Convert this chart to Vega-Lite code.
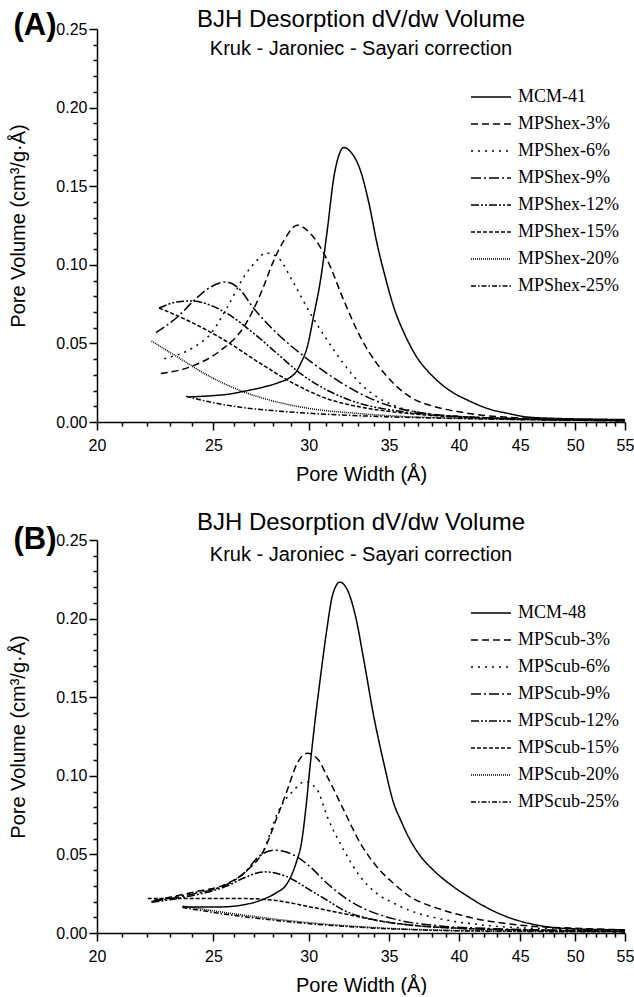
{
"$schema":"https://vega.github.io/schema/vega-lite/v6.json",
"padding":{"left":8,"top":8,"right":0,"bottom":0},
"config":{
 "view":{"stroke":null},
 "font":"Liberation Sans",
 "axis":{"grid":false,"domainColor":"black","domainWidth":1.5,"tickColor":"black","tickWidth":1.5,"labelColor":"black","titleColor":"black","labelFont":"Liberation Sans","titleFont":"Liberation Sans","labelFontSize":16,"titleFontSize":20,"titleFontWeight":"normal","labelOverlap":false,"labelFlush":false,"labelBound":false},
 "title":{"font":"Liberation Sans","fontSize":24,"fontWeight":"normal","color":"black","subtitleFont":"Liberation Sans","subtitleFontSize":20,"subtitleColor":"black","anchor":"middle","frame":"group"},
 "legend":{"title":null,"orient":"none","symbolType":"M-4,0H4","symbolSize":100,"symbolStrokeWidth":1.5,"symbolStrokeColor":"black","symbolFillColor":"transparent","labelFont":"Liberation Serif","labelFontSize":18,"labelColor":"black","labelOffset":18,"rowPadding":9,"padding":0},
 "concat":{"spacing":27}
},
"resolve":{"scale":{"strokeDash":"independent"},"legend":{"strokeDash":"independent"}},
"datasets":{
"hex":[
{"s":"MCM-41","w":23.83,"v":0.0159},{"s":"MCM-41","w":25.0,"v":0.0168},{"s":"MCM-41","w":25.68,"v":0.0176},{"s":"MCM-41","w":26.6,"v":0.0198},{"s":"MCM-41","w":27.54,"v":0.0223},{"s":"MCM-41","w":28.3,"v":0.025},{"s":"MCM-41","w":28.98,"v":0.0286},{"s":"MCM-41","w":29.3,"v":0.032},{"s":"MCM-41","w":29.54,"v":0.0371},{"s":"MCM-41","w":29.92,"v":0.0477},{"s":"MCM-41","w":30.3,"v":0.068},{"s":"MCM-41","w":30.69,"v":0.0902},{"s":"MCM-41","w":31.09,"v":0.122},{"s":"MCM-41","w":31.49,"v":0.156},{"s":"MCM-41","w":31.8,"v":0.170},{"s":"MCM-41","w":32.09,"v":0.1746},{"s":"MCM-41","w":32.5,"v":0.172},{"s":"MCM-41","w":33.13,"v":0.160},{"s":"MCM-41","w":33.7,"v":0.138},{"s":"MCM-41","w":34.2,"v":0.1135},{"s":"MCM-41","w":34.75,"v":0.092},{"s":"MCM-41","w":35.31,"v":0.0732},{"s":"MCM-41","w":36.0,"v":0.057},{"s":"MCM-41","w":36.45,"v":0.0485},{"s":"MCM-41","w":37.0,"v":0.040},{"s":"MCM-41","w":37.64,"v":0.0329},{"s":"MCM-41","w":38.2,"v":0.0278},{"s":"MCM-41","w":38.61,"v":0.0246},{"s":"MCM-41","w":39.5,"v":0.019},{"s":"MCM-41","w":40.66,"v":0.014},{"s":"MCM-41","w":42.5,"v":0.008},{"s":"MCM-41","w":43.8,"v":0.0057},{"s":"MCM-41","w":45.6,"v":0.0032},{"s":"MCM-41","w":48,"v":0.0023},{"s":"MCM-41","w":52,"v":0.0018},{"s":"MCM-41","w":55,"v":0.0015},
{"s":"MPShex-3%","w":22.6,"v":0.0308},{"s":"MPShex-3%","w":24.09,"v":0.036},{"s":"MPShex-3%","w":25.35,"v":0.0456},{"s":"MPShex-3%","w":26.5,"v":0.0605},{"s":"MPShex-3%","w":27.37,"v":0.0817},{"s":"MPShex-3%","w":28.07,"v":0.103},{"s":"MPShex-3%","w":28.62,"v":0.1156},{"s":"MPShex-3%","w":29.35,"v":0.1252},{"s":"MPShex-3%","w":30.1,"v":0.1199},{"s":"MPShex-3%","w":31.09,"v":0.103},{"s":"MPShex-3%","w":32.09,"v":0.0774},{"s":"MPShex-3%","w":33.13,"v":0.054},{"s":"MPShex-3%","w":34.2,"v":0.037},{"s":"MPShex-3%","w":35.31,"v":0.0244},{"s":"MPShex-3%","w":36.45,"v":0.0159},{"s":"MPShex-3%","w":38.3,"v":0.0095},{"s":"MPShex-3%","w":40,"v":0.0065},{"s":"MPShex-3%","w":42,"v":0.0042},{"s":"MPShex-3%","w":45,"v":0.0026},{"s":"MPShex-3%","w":50,"v":0.0016},{"s":"MPShex-3%","w":55,"v":0.001},
{"s":"MPShex-6%","w":22.75,"v":0.0403},{"s":"MPShex-6%","w":24.09,"v":0.0477},{"s":"MPShex-6%","w":24.87,"v":0.0562},{"s":"MPShex-6%","w":25.68,"v":0.0732},{"s":"MPShex-6%","w":26.5,"v":0.0923},{"s":"MPShex-6%","w":27.19,"v":0.103},{"s":"MPShex-6%","w":27.63,"v":0.1076},{"s":"MPShex-6%","w":28.25,"v":0.105},{"s":"MPShex-6%","w":29.17,"v":0.088},{"s":"MPShex-6%","w":30.1,"v":0.069},{"s":"MPShex-6%","w":31.09,"v":0.052},{"s":"MPShex-6%","w":32.09,"v":0.037},{"s":"MPShex-6%","w":33.13,"v":0.0244},{"s":"MPShex-6%","w":34.2,"v":0.0159},{"s":"MPShex-6%","w":35.31,"v":0.0106},{"s":"MPShex-6%","w":37.64,"v":0.0053},{"s":"MPShex-6%","w":40,"v":0.0035},{"s":"MPShex-6%","w":45,"v":0.002},{"s":"MPShex-6%","w":50,"v":0.0012},{"s":"MPShex-6%","w":55,"v":0.0008},
{"s":"MPShex-9%","w":22.39,"v":0.0569},{"s":"MPShex-9%","w":23.33,"v":0.0668},{"s":"MPShex-9%","w":24.09,"v":0.0774},{"s":"MPShex-9%","w":24.87,"v":0.0859},{"s":"MPShex-9%","w":25.6,"v":0.0891},{"s":"MPShex-9%","w":26.17,"v":0.0859},{"s":"MPShex-9%","w":27.02,"v":0.0721},{"s":"MPShex-9%","w":28.25,"v":0.0562},{"s":"MPShex-9%","w":29.54,"v":0.0435},{"s":"MPShex-9%","w":31.09,"v":0.0308},{"s":"MPShex-9%","w":33.13,"v":0.018},{"s":"MPShex-9%","w":35.31,"v":0.0095},{"s":"MPShex-9%","w":37.64,"v":0.0053},{"s":"MPShex-9%","w":40,"v":0.0035},{"s":"MPShex-9%","w":45,"v":0.002},{"s":"MPShex-9%","w":50,"v":0.0012},{"s":"MPShex-9%","w":55,"v":0.0008},
{"s":"MPShex-12%","w":22.53,"v":0.0725},{"s":"MPShex-12%","w":23.33,"v":0.0764},{"s":"MPShex-12%","w":23.94,"v":0.077},{"s":"MPShex-12%","w":24.87,"v":0.0742},{"s":"MPShex-12%","w":25.68,"v":0.0689},{"s":"MPShex-12%","w":27.02,"v":0.0562},{"s":"MPShex-12%","w":28.25,"v":0.0435},{"s":"MPShex-12%","w":29.54,"v":0.0308},{"s":"MPShex-12%","w":31.09,"v":0.0202},{"s":"MPShex-12%","w":33.13,"v":0.0117},{"s":"MPShex-12%","w":35.31,"v":0.0074},{"s":"MPShex-12%","w":38,"v":0.0045},{"s":"MPShex-12%","w":42,"v":0.0028},{"s":"MPShex-12%","w":48,"v":0.0016},{"s":"MPShex-12%","w":55,"v":0.001},
{"s":"MPShex-15%","w":22.53,"v":0.0725},{"s":"MPShex-15%","w":24.09,"v":0.0626},{"s":"MPShex-15%","w":25.68,"v":0.0509},{"s":"MPShex-15%","w":27.37,"v":0.0371},{"s":"MPShex-15%","w":29.17,"v":0.0244},{"s":"MPShex-15%","w":31.09,"v":0.0148},{"s":"MPShex-15%","w":33.13,"v":0.0095},{"s":"MPShex-15%","w":35.31,"v":0.0064},{"s":"MPShex-15%","w":38,"v":0.0042},{"s":"MPShex-15%","w":42,"v":0.0026},{"s":"MPShex-15%","w":48,"v":0.0015},{"s":"MPShex-15%","w":55,"v":0.001},
{"s":"MPShex-20%","w":22.2,"v":0.0515},{"s":"MPShex-20%","w":23.33,"v":0.0414},{"s":"MPShex-20%","w":24.87,"v":0.0286},{"s":"MPShex-20%","w":26.5,"v":0.0191},{"s":"MPShex-20%","w":28.25,"v":0.0127},{"s":"MPShex-20%","w":30.1,"v":0.0085},{"s":"MPShex-20%","w":33.13,"v":0.0053},{"s":"MPShex-20%","w":36,"v":0.0035},{"s":"MPShex-20%","w":40,"v":0.0024},{"s":"MPShex-20%","w":45,"v":0.0016},{"s":"MPShex-20%","w":55,"v":0.0009},
{"s":"MPShex-25%","w":23.71,"v":0.0163},{"s":"MPShex-25%","w":25.68,"v":0.0106},{"s":"MPShex-25%","w":28.25,"v":0.007},{"s":"MPShex-25%","w":31.09,"v":0.0049},{"s":"MPShex-25%","w":35.31,"v":0.0032},{"s":"MPShex-25%","w":40,"v":0.0022},{"s":"MPShex-25%","w":45,"v":0.0015},{"s":"MPShex-25%","w":55,"v":0.0008}
],
"cub":[
{"s":"MCM-48","w":23.56,"v":0.0166},{"s":"MCM-48","w":25.35,"v":0.0166},{"s":"MCM-48","w":26.5,"v":0.018},{"s":"MCM-48","w":27.37,"v":0.0208},{"s":"MCM-48","w":28.25,"v":0.026},{"s":"MCM-48","w":28.7,"v":0.030},{"s":"MCM-48","w":29.0,"v":0.036},{"s":"MCM-48","w":29.3,"v":0.045},{"s":"MCM-48","w":29.6,"v":0.058},{"s":"MCM-48","w":29.83,"v":0.0782},{"s":"MCM-48","w":30.1,"v":0.108},{"s":"MCM-48","w":30.4,"v":0.1377},{"s":"MCM-48","w":30.69,"v":0.163},{"s":"MCM-48","w":31.09,"v":0.195},{"s":"MCM-48","w":31.39,"v":0.2142},{"s":"MCM-48","w":31.85,"v":0.2232},{"s":"MCM-48","w":32.3,"v":0.2185},{"s":"MCM-48","w":32.82,"v":0.2015},{"s":"MCM-48","w":33.34,"v":0.1739},{"s":"MCM-48","w":33.99,"v":0.1377},{"s":"MCM-48","w":34.65,"v":0.108},{"s":"MCM-48","w":35.31,"v":0.0825},{"s":"MCM-48","w":35.8,"v":0.0715},{"s":"MCM-48","w":36.22,"v":0.063},{"s":"MCM-48","w":37.16,"v":0.049},{"s":"MCM-48","w":38.1,"v":0.040},{"s":"MCM-48","w":39.5,"v":0.030},{"s":"MCM-48","w":40.66,"v":0.0235},{"s":"MCM-48","w":42.0,"v":0.017},{"s":"MCM-48","w":43.8,"v":0.0105},{"s":"MCM-48","w":46.5,"v":0.005},{"s":"MCM-48","w":49.2,"v":0.0028},{"s":"MCM-48","w":55,"v":0.002},
{"s":"MPScub-3%","w":22.32,"v":0.0208},{"s":"MPScub-3%","w":24.09,"v":0.0261},{"s":"MPScub-3%","w":25.68,"v":0.0315},{"s":"MPScub-3%","w":26.68,"v":0.04},{"s":"MPScub-3%","w":27.54,"v":0.0527},{"s":"MPScub-3%","w":28.25,"v":0.074},{"s":"MPScub-3%","w":28.8,"v":0.091},{"s":"MPScub-3%","w":29.35,"v":0.108},{"s":"MPScub-3%","w":29.92,"v":0.1143},{"s":"MPScub-3%","w":30.5,"v":0.111},{"s":"MPScub-3%","w":31.09,"v":0.0995},{"s":"MPScub-3%","w":32.09,"v":0.0782},{"s":"MPScub-3%","w":33.13,"v":0.057},{"s":"MPScub-3%","w":34.2,"v":0.042},{"s":"MPScub-3%","w":35.31,"v":0.0315},{"s":"MPScub-3%","w":36.45,"v":0.023},{"s":"MPScub-3%","w":38.3,"v":0.016},{"s":"MPScub-3%","w":40.7,"v":0.0102},{"s":"MPScub-3%","w":45,"v":0.005},{"s":"MPScub-3%","w":50,"v":0.003},{"s":"MPScub-3%","w":55,"v":0.002},
{"s":"MPScub-6%","w":22.32,"v":0.0205},{"s":"MPScub-6%","w":24.09,"v":0.0255},{"s":"MPScub-6%","w":25.68,"v":0.031},{"s":"MPScub-6%","w":26.68,"v":0.04},{"s":"MPScub-6%","w":27.54,"v":0.053},{"s":"MPScub-6%","w":28.25,"v":0.076},{"s":"MPScub-6%","w":29.17,"v":0.091},{"s":"MPScub-6%","w":29.8,"v":0.0963},{"s":"MPScub-6%","w":30.5,"v":0.091},{"s":"MPScub-6%","w":31.09,"v":0.074},{"s":"MPScub-6%","w":32.09,"v":0.0527},{"s":"MPScub-6%","w":33.13,"v":0.0357},{"s":"MPScub-6%","w":34.2,"v":0.025},{"s":"MPScub-6%","w":35.31,"v":0.019},{"s":"MPScub-6%","w":36.5,"v":0.014},{"s":"MPScub-6%","w":38.61,"v":0.009},{"s":"MPScub-6%","w":42,"v":0.005},{"s":"MPScub-6%","w":48,"v":0.0025},{"s":"MPScub-6%","w":55,"v":0.0015},
{"s":"MPScub-9%","w":22.2,"v":0.02},{"s":"MPScub-9%","w":24.09,"v":0.025},{"s":"MPScub-9%","w":25.68,"v":0.031},{"s":"MPScub-9%","w":26.5,"v":0.038},{"s":"MPScub-9%","w":27.3,"v":0.049},{"s":"MPScub-9%","w":28.07,"v":0.0527},{"s":"MPScub-9%","w":29.17,"v":0.0495},{"s":"MPScub-9%","w":30.1,"v":0.042},{"s":"MPScub-9%","w":31.09,"v":0.0315},{"s":"MPScub-9%","w":32.09,"v":0.023},{"s":"MPScub-9%","w":33.13,"v":0.0166},{"s":"MPScub-9%","w":35.31,"v":0.009},{"s":"MPScub-9%","w":38.61,"v":0.0045},{"s":"MPScub-9%","w":42,"v":0.003},{"s":"MPScub-9%","w":48,"v":0.0018},{"s":"MPScub-9%","w":55,"v":0.0012},
{"s":"MPScub-12%","w":22.2,"v":0.0195},{"s":"MPScub-12%","w":24.09,"v":0.024},{"s":"MPScub-12%","w":25.68,"v":0.03},{"s":"MPScub-12%","w":26.5,"v":0.035},{"s":"MPScub-12%","w":27.54,"v":0.0389},{"s":"MPScub-12%","w":28.8,"v":0.0357},{"s":"MPScub-12%","w":30.1,"v":0.0272},{"s":"MPScub-12%","w":31.09,"v":0.0208},{"s":"MPScub-12%","w":32.09,"v":0.0145},{"s":"MPScub-12%","w":34.2,"v":0.008},{"s":"MPScub-12%","w":36.5,"v":0.005},{"s":"MPScub-12%","w":40,"v":0.003},{"s":"MPScub-12%","w":48,"v":0.0016},{"s":"MPScub-12%","w":55,"v":0.001},
{"s":"MPScub-15%","w":22.04,"v":0.0219},{"s":"MPScub-15%","w":24.09,"v":0.0219},{"s":"MPScub-15%","w":26.5,"v":0.0219},{"s":"MPScub-15%","w":28.07,"v":0.0208},{"s":"MPScub-15%","w":30.1,"v":0.0166},{"s":"MPScub-15%","w":32.09,"v":0.0123},{"s":"MPScub-15%","w":34.2,"v":0.008},{"s":"MPScub-15%","w":36.5,"v":0.005},{"s":"MPScub-15%","w":40,"v":0.003},{"s":"MPScub-15%","w":48,"v":0.0016},{"s":"MPScub-15%","w":55,"v":0.001},
{"s":"MPScub-20%","w":23.56,"v":0.0172},{"s":"MPScub-20%","w":25.68,"v":0.0128},{"s":"MPScub-20%","w":29.17,"v":0.0075},{"s":"MPScub-20%","w":33.13,"v":0.004},{"s":"MPScub-20%","w":38.61,"v":0.0018},{"s":"MPScub-20%","w":45,"v":0.0012},{"s":"MPScub-20%","w":55,"v":0.0008},
{"s":"MPScub-25%","w":23.56,"v":0.0162},{"s":"MPScub-25%","w":25.68,"v":0.0118},{"s":"MPScub-25%","w":29.17,"v":0.0068},{"s":"MPScub-25%","w":33.13,"v":0.0036},{"s":"MPScub-25%","w":38.61,"v":0.0016},{"s":"MPScub-25%","w":45,"v":0.001},{"s":"MPScub-25%","w":55,"v":0.0007}
]
},
"vconcat":[
{
 "width":528,"height":393,
 "title":{"text":"BJH Desorption dV/dw Volume","subtitle":"Kruk - Jaroniec - Sayari correction","offset":-49,"subtitlePadding":7},
 "layer":[
  {"data":{"name":"hex"},
   "mark":{"type":"line","interpolate":"monotone","color":"black","strokeWidth":1.5},
   "encoding":{
    "x":{"field":"w","type":"quantitative","scale":{"type":"log","domain":[20,55],"nice":false},
     "axis":{"values":[20,21,22,23,24,25,26,27,28,29,30,31,32,33,34,35,36,37,38,39,40,41,42,43,44,45,46,47,48,49,50,51,52,53,54,55],"labelExpr":"datum.value % 5 === 0 ? datum.label : ''","format":"d","tickSize":{"condition":{"test":"datum.value % 5 === 0","value":8},"value":4},"labelPadding":7,"title":"Pore Width (Å)","titlePadding":11}},
    "y":{"field":"v","type":"quantitative","scale":{"domain":[0,0.25],"nice":false},
     "axis":{"values":[0,0.01,0.02,0.03,0.04,0.05,0.06,0.07,0.08,0.09,0.1,0.11,0.12,0.13,0.14,0.15,0.16,0.17,0.18,0.19,0.2,0.21,0.22,0.23,0.24,0.25],"labelExpr":"round(datum.value*100) % 5 === 0 ? format(datum.value, '.2f') : ''","tickSize":{"condition":{"test":"round(datum.value*100) % 5 === 0","value":8},"value":4},"labelPadding":2,"title":"Pore Volume (cm³/g·Å)","titlePadding":27}},
    "strokeDash":{"field":"s","type":"nominal","scale":{"domain":["MCM-41","MPShex-3%","MPShex-6%","MPShex-9%","MPShex-12%","MPShex-15%","MPShex-20%","MPShex-25%"],"range":[[1,0],[7,4],[2,5],[10,3,2,3],[8,2,2,2,2,2],[4,2],[1,1],[5,2,1.5,2]]},
     "legend":{"legendX":385,"legendY":59}}
   }},
  {"data":{"values":[{"t":"(A)"}]},
   "mark":{"type":"text","fontSize":31,"fontWeight":"bold","dx":-62,"dy":-3,"color":"black","baseline":"middle","font":"Liberation Sans"},
   "encoding":{
    "x":{"datum":20,"type":"quantitative","scale":{"type":"log","domain":[20,55],"nice":false},
     "axis":{"values":[20,21,22,23,24,25,26,27,28,29,30,31,32,33,34,35,36,37,38,39,40,41,42,43,44,45,46,47,48,49,50,51,52,53,54,55],"labelExpr":"datum.value % 5 === 0 ? datum.label : ''","format":"d","tickSize":{"condition":{"test":"datum.value % 5 === 0","value":8},"value":4},"labelPadding":7,"title":"Pore Width (Å)","titlePadding":11}},
    "y":{"datum":0.25,"type":"quantitative","scale":{"domain":[0,0.25],"nice":false},
     "axis":{"values":[0,0.01,0.02,0.03,0.04,0.05,0.06,0.07,0.08,0.09,0.1,0.11,0.12,0.13,0.14,0.15,0.16,0.17,0.18,0.19,0.2,0.21,0.22,0.23,0.24,0.25],"labelExpr":"round(datum.value*100) % 5 === 0 ? format(datum.value, '.2f') : ''","tickSize":{"condition":{"test":"round(datum.value*100) % 5 === 0","value":8},"value":4},"labelPadding":2,"title":"Pore Volume (cm³/g·Å)","titlePadding":27}},
    "text":{"field":"t"}}}
 ]
},
{
 "width":528,"height":393,
 "title":{"text":"BJH Desorption dV/dw Volume","subtitle":"Kruk - Jaroniec - Sayari correction","offset":-41,"subtitlePadding":10},
 "layer":[
  {"data":{"name":"cub"},
   "mark":{"type":"line","interpolate":"monotone","color":"black","strokeWidth":1.5},
   "encoding":{
    "x":{"field":"w","type":"quantitative","scale":{"type":"log","domain":[20,55],"nice":false},
     "axis":{"values":[20,21,22,23,24,25,26,27,28,29,30,31,32,33,34,35,36,37,38,39,40,41,42,43,44,45,46,47,48,49,50,51,52,53,54,55],"labelExpr":"datum.value % 5 === 0 ? datum.label : ''","format":"d","tickSize":{"condition":{"test":"datum.value % 5 === 0","value":8},"value":4},"labelPadding":7,"title":"Pore Width (Å)","titlePadding":11}},
    "y":{"field":"v","type":"quantitative","scale":{"domain":[0,0.25],"nice":false},
     "axis":{"values":[0,0.01,0.02,0.03,0.04,0.05,0.06,0.07,0.08,0.09,0.1,0.11,0.12,0.13,0.14,0.15,0.16,0.17,0.18,0.19,0.2,0.21,0.22,0.23,0.24,0.25],"labelExpr":"round(datum.value*100) % 5 === 0 ? format(datum.value, '.2f') : ''","tickSize":{"condition":{"test":"round(datum.value*100) % 5 === 0","value":8},"value":4},"labelPadding":2,"title":"Pore Volume (cm³/g·Å)","titlePadding":27}},
    "strokeDash":{"field":"s","type":"nominal","scale":{"domain":["MCM-48","MPScub-3%","MPScub-6%","MPScub-9%","MPScub-12%","MPScub-15%","MPScub-20%","MPScub-25%"],"range":[[1,0],[7,4],[2,5],[10,3,2,3],[8,2,2,2,2,2],[4,2],[1,1],[5,2,1.5,2]]},
     "legend":{"legendX":385,"legendY":64}}
   }},
  {"data":{"values":[{"t":"(B)"}]},
   "mark":{"type":"text","fontSize":31,"fontWeight":"bold","dx":-62,"color":"black","baseline":"middle","font":"Liberation Sans"},
   "encoding":{
    "x":{"datum":20,"type":"quantitative","scale":{"type":"log","domain":[20,55],"nice":false},
     "axis":{"values":[20,21,22,23,24,25,26,27,28,29,30,31,32,33,34,35,36,37,38,39,40,41,42,43,44,45,46,47,48,49,50,51,52,53,54,55],"labelExpr":"datum.value % 5 === 0 ? datum.label : ''","format":"d","tickSize":{"condition":{"test":"datum.value % 5 === 0","value":8},"value":4},"labelPadding":7,"title":"Pore Width (Å)","titlePadding":11}},
    "y":{"datum":0.25,"type":"quantitative","scale":{"domain":[0,0.25],"nice":false},
     "axis":{"values":[0,0.01,0.02,0.03,0.04,0.05,0.06,0.07,0.08,0.09,0.1,0.11,0.12,0.13,0.14,0.15,0.16,0.17,0.18,0.19,0.2,0.21,0.22,0.23,0.24,0.25],"labelExpr":"round(datum.value*100) % 5 === 0 ? format(datum.value, '.2f') : ''","tickSize":{"condition":{"test":"round(datum.value*100) % 5 === 0","value":8},"value":4},"labelPadding":2,"title":"Pore Volume (cm³/g·Å)","titlePadding":27}},
    "text":{"field":"t"}}}
 ]
}
]
}
